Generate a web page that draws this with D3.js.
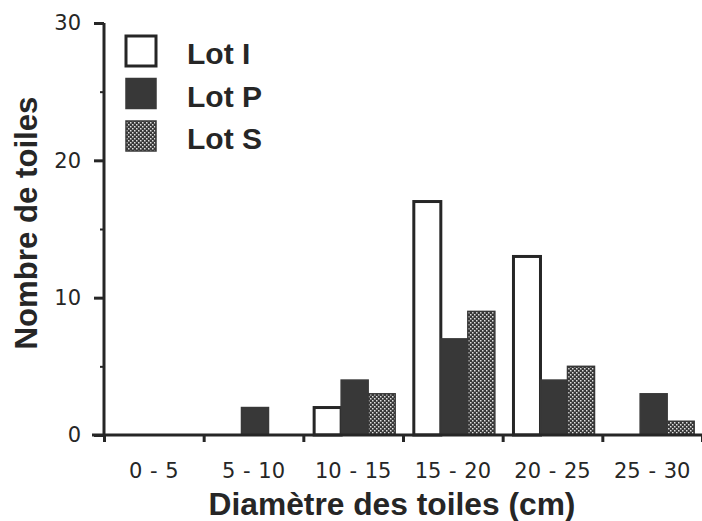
<!DOCTYPE html>
<html><head><meta charset="utf-8">
<script src="https://cdn.jsdelivr.net/npm/d3@7/dist/d3.min.js"></script>
<style>body{margin:0;background:#fff}svg{display:block}</style>
</head><body>
<script>
const categories = ["0 - 5","5 - 10","10 - 15","15 - 20","20 - 25","25 - 30"];
const seriesNames = ["Lot I","Lot P","Lot S"];
const lotI = [0,0,2,17,13,0];
const lotP = [0,2,4,7,4,3];
const lotS = [0,0,3,9,5,1];
const yTicks = [0,10,20,30];
const yMinor = [5,15,25];
const xTitle = "Diamètre des toiles (cm)";
const yTitle = "Nombre de toiles";

const series = [lotI, lotP, lotS];
const W = 702, H = 521;
const mLeft = 104, mRight = 702, mTop = 23, mBottom = 435;
const ink = "#262626";
const dark = "#383838";

const svg = d3.select("body").append("svg").attr("width", W).attr("height", H);
const defs = svg.append("defs");
const pat = defs.append("pattern").attr("id","stip").attr("patternUnits","userSpaceOnUse")
  .attr("width",4).attr("height",4);
pat.append("rect").attr("width",4).attr("height",4).attr("fill","#383838");
pat.append("rect").attr("x",0).attr("y",0).attr("width",1.5).attr("height",1.5).attr("fill","#e0e0e0");
pat.append("rect").attr("x",2).attr("y",2).attr("width",1.5).attr("height",1.5).attr("fill","#e0e0e0");

const fills = ["#ffffff", dark, "url(#stip)"];
const strokes = [ink, dark, dark];

const x = d3.scaleBand().domain(categories).range([mLeft, mRight]).padding(0);
const x1 = d3.scaleBand().domain(seriesNames).range([0, x.bandwidth()]).paddingInner(0).paddingOuter(0.345).align(0.58);
const y = d3.scaleLinear().domain([0,30]).range([mBottom, mTop]);

// bars
const rows = categories.map((c,i)=>({c, vals: series.map((s,k)=>({k, name: seriesNames[k], v: s[i]}))}));
const g = svg.append("g");
rows.forEach(r=>{
  r.vals.forEach(d=>{
    if (d.v <= 0) return;
    g.append("rect")
      .attr("x", x(r.c) + x1(d.name))
      .attr("y", y(d.v))
      .attr("width", x1.bandwidth())
      .attr("height", y(0) - y(d.v))
      .attr("fill", fills[d.k])
      .attr("stroke", strokes[d.k])
      .attr("stroke-width", d.k===0 ? 3 : 1.5);
  });
});

// y axis
const yAxis = svg.append("g").attr("transform", `translate(${mLeft},0)`)
  .call(d3.axisLeft(y).tickValues(yTicks).tickSize(10).tickPadding(13).tickFormat(d3.format("d")));
yAxis.select(".domain").remove();
yAxis.selectAll(".tick line").attr("stroke", ink).attr("stroke-width", 3);
yAxis.selectAll(".tick text").attr("font-family","'Century Gothic','DejaVu Sans',sans-serif")
  .attr("font-size", 21).attr("fill", ink);
const yMinorAxis = svg.append("g").attr("transform", `translate(${mLeft},0)`)
  .call(d3.axisLeft(y).tickValues(yMinor).tickSize(4).tickFormat(""));
yMinorAxis.select(".domain").remove();
yMinorAxis.selectAll(".tick line").attr("stroke", ink).attr("stroke-width", 2);
svg.append("line").attr("x1", mLeft).attr("x2", mLeft).attr("y1", y(30)).attr("y2", y(0)+1.5)
  .attr("stroke", ink).attr("stroke-width", 3);

// x axis
const xb = d3.scaleLinear().domain([0, categories.length]).range([mLeft, mRight]);
const xTickAxis = svg.append("g").attr("transform", `translate(0,${mBottom})`)
  .call(d3.axisBottom(xb).tickValues(d3.range(categories.length+1)).tickSize(7).tickFormat(""));
xTickAxis.select(".domain").remove();
xTickAxis.selectAll(".tick line").attr("stroke", ink).attr("stroke-width", 3);
svg.append("line").attr("x1", 92).attr("x2", mRight).attr("y1", mBottom).attr("y2", mBottom)
  .attr("stroke", ink).attr("stroke-width", 3);

const xAxis = svg.append("g").attr("transform", `translate(0,${mBottom})`)
  .call(d3.axisBottom(x).tickSize(0).tickPadding(0));
xAxis.select(".domain").remove();
xAxis.selectAll(".tick text").attr("y", 43).attr("dy", 0)
  .attr("font-family","'Century Gothic','DejaVu Sans',sans-serif")
  .attr("font-size", 21).attr("fill", ink).attr("word-spacing", 1);

// titles
const bold = "'Liberation Sans','Arial',sans-serif";
const xt = svg.append("text").attr("x", 392).attr("y", 515).attr("text-anchor","middle")
  .attr("font-family", bold).attr("font-weight","bold").attr("font-size", 25).attr("fill", ink).text(xTitle);
const yt = svg.append("text").attr("transform", "translate(37,223) rotate(-90)").attr("text-anchor","middle")
  .attr("font-family", bold).attr("font-weight","bold").attr("font-size", 25).attr("fill", ink).text(yTitle);
function fit(sel, target){ const w = sel.node().getComputedTextLength(); const fs = +sel.attr("font-size"); sel.attr("font-size", fs*target/w); }
fit(xt, 367); fit(yt, 253);

// legend
const lg = svg.append("g");
seriesNames.forEach((n,k)=>{
  const yy = 36 + k*42.5;
  lg.append("rect").attr("x", 126).attr("y", yy).attr("width", 30).attr("height", 30)
    .attr("fill", fills[k]).attr("stroke", k===0 ? ink : dark).attr("stroke-width", k===0 ? 3 : 1.5);
  lg.append("text").attr("x", 187).attr("y", yy + 28).attr("font-family", bold).attr("font-weight","bold")
    .attr("font-size", 30).attr("fill", ink).text(n);
});
</script>
</body></html>
